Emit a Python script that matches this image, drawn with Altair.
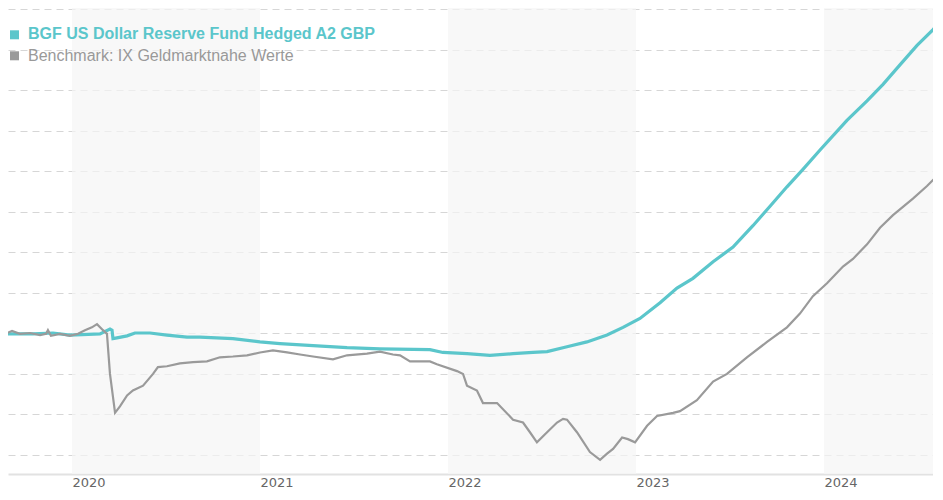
import altair as alt
import pandas as pd

series_names = ["BGF US Dollar Reserve Fund Hedged A2 GBP", "Benchmark: IX Geldmarktnahe Werte"]
series_colors = ["#5bc6cb", "#9a9a9a"]

fund_t = [2019.654, 2019.793, 2019.899, 2019.989, 2020.149, 2020.202, 2020.213, 2020.218, 2020.239,
          2020.293, 2020.335, 2020.415, 2020.505, 2020.612, 2020.681, 2020.856, 2021.000, 2021.106,
          2021.282, 2021.463, 2021.638, 2021.904, 2021.973, 2022.101, 2022.223, 2022.346, 2022.452,
          2022.527, 2022.633, 2022.739, 2022.846, 2022.931, 2023.021, 2023.128, 2023.218, 2023.303,
          2023.410, 2023.516, 2023.622, 2023.713, 2023.803, 2023.888, 2023.979, 2024.122, 2024.229,
          2024.314, 2024.404, 2024.495, 2024.580, 2024.633]
fund_v = [99.98, 99.98, 100.00, 99.95, 99.98, 100.10, 100.07, 99.86, 99.88,
          99.93, 100.00, 100.00, 99.95, 99.90, 99.90, 99.86, 99.78, 99.74,
          99.69, 99.64, 99.61, 99.59, 99.52, 99.49, 99.45, 99.49, 99.52,
          99.54, 99.66, 99.78, 99.95, 100.14, 100.36, 100.75, 101.11, 101.35,
          101.76, 102.12, 102.65, 103.13, 103.61, 104.04, 104.52, 105.25, 105.73,
          106.14, 106.62, 107.10, 107.49, 107.77]

bench_t = [2019.654, 2019.681, 2019.723, 2019.777, 2019.830, 2019.862, 2019.872, 2019.888, 2019.936,
           2019.989, 2020.032, 2020.069, 2020.106, 2020.133, 2020.165, 2020.186, 2020.202, 2020.229,
           2020.255, 2020.293, 2020.324, 2020.378, 2020.431, 2020.457, 2020.505, 2020.574, 2020.644,
           2020.718, 2020.787, 2020.856, 2020.931, 2021.000, 2021.069, 2021.144, 2021.213, 2021.282,
           2021.388, 2021.463, 2021.569, 2021.638, 2021.707, 2021.745, 2021.798, 2021.904, 2021.941,
           2022.048, 2022.080, 2022.101, 2022.154, 2022.186, 2022.261, 2022.346, 2022.399, 2022.436,
           2022.473, 2022.527, 2022.580, 2022.612, 2022.633, 2022.686, 2022.755, 2022.809, 2022.846,
           2022.878, 2022.926, 2022.957, 2022.995, 2023.059, 2023.112, 2023.197, 2023.234, 2023.324,
           2023.410, 2023.484, 2023.590, 2023.697, 2023.803, 2023.872, 2023.941, 2024.016, 2024.101,
           2024.154, 2024.229, 2024.298, 2024.367, 2024.473, 2024.548, 2024.628]
bench_v = [100.00, 100.05, 99.98, 100.00, 99.95, 99.98, 100.07, 99.93, 99.98,
           99.93, 99.98, 100.07, 100.14, 100.22, 100.07, 99.98, 98.99, 98.03,
           98.19, 98.46, 98.58, 98.70, 98.99, 99.16, 99.18, 99.25, 99.28,
           99.30, 99.40, 99.42, 99.45, 99.52, 99.57, 99.52, 99.47, 99.42,
           99.35, 99.45, 99.49, 99.54, 99.47, 99.45, 99.30, 99.30, 99.23,
           99.06, 98.99, 98.70, 98.58, 98.27, 98.27, 97.86, 97.79, 97.55,
           97.30, 97.55, 97.79, 97.88, 97.86, 97.55, 97.06, 96.87, 97.02,
           97.14, 97.42, 97.38, 97.30, 97.71, 97.95, 98.03, 98.07, 98.34,
           98.80, 98.99, 99.40, 99.78, 100.14, 100.48, 100.91, 101.23, 101.64,
           101.83, 102.19, 102.60, 102.91, 103.32, 103.63, 104.00]

band_years = [2020, 2022, 2024]
tick_years = [2020, 2021, 2022, 2023, 2024]
grid_values = list(range(97, 109))

x_domain = [2019.6596, 2024.5798]
y_domain = [96.519, 108.025]

W, H = 925, 466

fund = pd.DataFrame({"t": fund_t, "v": fund_v})
bench = pd.DataFrame({"t": bench_t, "v": bench_v})
bands = pd.DataFrame({"start": band_years, "end": [y + 1 for y in band_years]})
legend = pd.DataFrame({"name": series_names})

xs = alt.Scale(domain=x_domain, nice=False, zero=False)
ys = alt.Scale(domain=y_domain, nice=False, zero=False)

x_axis = alt.Axis(values=tick_years, format="d", title=None, grid=False, ticks=False, tickSize=0,
                  labelAlign="left", labelBaseline="alphabetic", labelPadding=12, labelFontSize=13,
                  labelFont="DejaVu Sans", labelColor="#666666", domainColor="#e2e2e2",
                  domainWidth=2, labelFlush=False, labelOverlap=False)
y_axis = alt.Axis(values=grid_values, title=None, labels=False, ticks=False, tickSize=0, domain=False,
                  grid=True, gridColor="#d6d6d6", gridDash=[7, 5], gridWidth=1)

base_grid = alt.Chart(fund).mark_line(opacity=0, clip=True).encode(
    x=alt.X("t:Q", scale=xs, axis=x_axis),
    y=alt.Y("v:Q", scale=ys, axis=y_axis),
)

band_layer = alt.Chart(bands).mark_rect(clip=True, color="#f5f5f5", opacity=0.7).encode(
    x=alt.X("start:Q", scale=xs),
    x2="end:Q",
)

fund_line = alt.Chart(fund).mark_line(color=series_colors[0], strokeWidth=3.2, clip=True).encode(
    x=alt.X("t:Q", scale=xs), y=alt.Y("v:Q", scale=ys)
)
bench_line = alt.Chart(bench).mark_line(color=series_colors[1], strokeWidth=2.2, clip=True).encode(
    x=alt.X("t:Q", scale=xs), y=alt.Y("v:Q", scale=ys)
)

leg1_sq = alt.Chart(legend.iloc[[0]]).mark_square(size=81, color=series_colors[0], opacity=1).encode(
    x=alt.value(6.5), y=alt.value(26.8))
leg2_sq = alt.Chart(legend.iloc[[1]]).mark_square(size=81, color=series_colors[1], opacity=1).encode(
    x=alt.value(6.5), y=alt.value(47.8))
leg1_tx = alt.Chart(legend.iloc[[0]]).mark_text(align="left", baseline="alphabetic", font="Liberation Sans",
                                                fontSize=16, fontWeight="bold", color=series_colors[0]).encode(
    x=alt.value(20), y=alt.value(31.2), text="name:N")
leg2_tx = alt.Chart(legend.iloc[[1]]).mark_text(align="left", baseline="alphabetic", font="Liberation Sans",
                                                fontSize=16, color="#999999").encode(
    x=alt.value(20), y=alt.value(52.7), text="name:N")

chart = alt.layer(base_grid, band_layer, fund_line, bench_line, leg1_sq, leg2_sq, leg1_tx, leg2_tx).properties(
    width=W, height=H, padding={"left": 0, "top": 0, "right": 0, "bottom": 0}, background="white"
).configure_view(stroke=None)

chart.save("out.html", embed_options={"renderer": "svg", "actions": False})
